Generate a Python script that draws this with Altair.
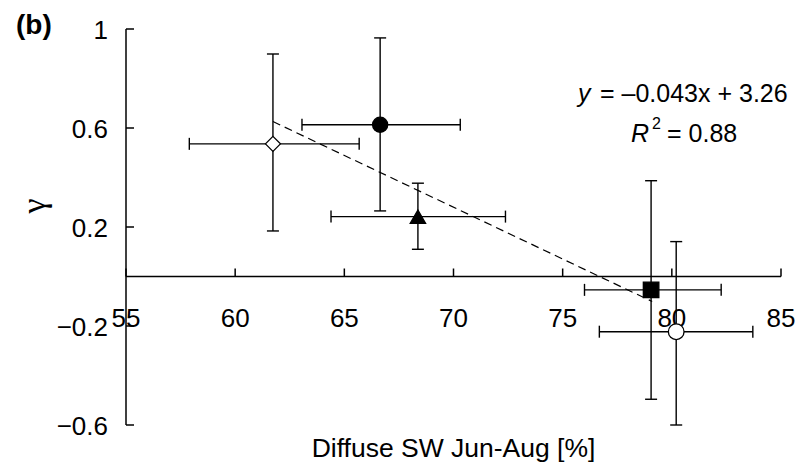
import altair as alt
import pandas as pd

# ---- data ----
series = ["s1", "s2", "s3", "s4", "s5"]
x_vals = [61.73, 66.64, 68.37, 79.05, 80.20]
y_vals = [0.536, 0.613, 0.242, -0.054, -0.223]
x_lo = [57.90, 63.06, 64.39, 76.00, 76.68]
x_hi = [65.68, 70.31, 72.38, 82.26, 83.71]
y_lo = [0.184, 0.265, 0.110, -0.496, -0.600]
y_hi = [0.899, 0.964, 0.377, 0.387, 0.141]

fit_x = [61.73, 79.10]
fit_y = [0.626, -0.101]

x_ticks = [55, 60, 65, 70, 75, 80, 85]
y_ticks = [1.0, 0.6, 0.2, -0.2, -0.6]
y_tick_labels = ["1", "0.6", "0.2", "\u22120.2", "\u22120.6"]

FONT = "Liberation Sans"
W, H = 655, 396

xs = alt.Scale(domain=[x_ticks[0], x_ticks[-1]], nice=False, zero=False)
ys = alt.Scale(domain=[y_ticks[-1], y_ticks[0]], nice=False, zero=False)

pts = pd.DataFrame({"series": series, "x": x_vals, "y": y_vals,
                    "xlo": x_lo, "xhi": x_hi, "ylo": y_lo, "yhi": y_hi})

X = lambda f: alt.X(f, type="quantitative", scale=xs, axis=None)
Y = lambda f: alt.Y(f, type="quantitative", scale=ys, axis=None)

base = alt.Chart(pts)

# error bars
h_bar = base.mark_rule(color="black", strokeWidth=1.4).encode(x=X("xlo"), x2="xhi", y=Y("y"))
v_bar = base.mark_rule(color="black", strokeWidth=1.4).encode(x=X("x"), y=Y("ylo"), y2="yhi")

xcap_df = pd.DataFrame({"x": x_lo + x_hi, "y": y_vals + y_vals})
ycap_df = pd.DataFrame({"x": x_vals + x_vals, "y": y_lo + y_hi})
x_caps = alt.Chart(xcap_df).mark_rule(color="black", strokeWidth=1.4, yOffset=-6, y2Offset=6).encode(
    x=X("x"), y=Y("y"), y2="y")
y_caps = alt.Chart(ycap_df).mark_rule(color="black", strokeWidth=1.4, xOffset=-6, x2Offset=6).encode(
    x=X("x"), x2="x", y=Y("y"))

# regression line
fit = alt.Chart(pd.DataFrame({"x": fit_x, "y": fit_y})).mark_line(
    color="black", strokeWidth=1.2, strokeDash=[8, 5]).encode(x=X("x"), y=Y("y"))

# markers
markers = base.mark_point(filled=True, stroke="black", strokeWidth=1.3, opacity=1).encode(
    x=X("x"), y=Y("y"),
    shape=alt.Shape("series:N", legend=None,
                    scale=alt.Scale(domain=series,
                                    range=["diamond", "circle", "triangle-up", "square", "circle"])),
    fill=alt.Fill("series:N", legend=None,
                  scale=alt.Scale(domain=series, range=["white", "black", "black", "black", "white"])),
    size=alt.Size("series:N", legend=None,
                  scale=alt.Scale(domain=series, range=[225, 246, 289, 169, 246])),
)

# axes drawn by hand (x axis crosses at y = 0, ticks inward)
yaxis_line = alt.Chart(pd.DataFrame({"x": [x_ticks[0]], "y": [y_ticks[-1]], "y2": [y_ticks[0]]})).mark_rule(
    color="black", strokeWidth=1.5).encode(x=X("x"), y=Y("y"), y2="y2")
xaxis_line = alt.Chart(pd.DataFrame({"x": [x_ticks[0]], "x2": [x_ticks[-1]], "y": [0]})).mark_rule(
    color="black", strokeWidth=1.5).encode(x=X("x"), x2="x2", y=Y("y"))

xt_df = pd.DataFrame({"x": x_ticks, "y": [0] * len(x_ticks), "lab": [str(v) for v in x_ticks]})
yt_df = pd.DataFrame({"x": [x_ticks[0]] * len(y_ticks), "y": y_ticks, "lab": y_tick_labels})

x_tickmarks = alt.Chart(xt_df).mark_rule(color="black", strokeWidth=1.5, y2Offset=-8).encode(
    x=X("x"), y=Y("y"), y2="y")
y_tickmarks = alt.Chart(yt_df).mark_rule(color="black", strokeWidth=1.5, x2Offset=8).encode(
    x=X("x"), x2="x", y=Y("y"))

x_labels = alt.Chart(xt_df).mark_text(font=FONT, fontSize=26, align="center", baseline="alphabetic",
                                      dy=50, color="black").encode(x=X("x"), y=Y("y"), text="lab:N")
y_labels = alt.Chart(yt_df).mark_text(font=FONT, fontSize=26, align="right", baseline="alphabetic",
                                      dx=-18, dy=10, color="black").encode(x=X("x"), y=Y("y"), text="lab:N")

# titles and annotations
def txt(s, px, py, size=26, font=FONT, **kw):
    return alt.Chart(pd.DataFrame({"t": [s]})).mark_text(font=font, fontSize=size, color="black", **kw).encode(
        x=alt.value(px), y=alt.value(py), text="t:N")

x_title = txt("Diffuse SW Jun-Aug [%]", W / 2, 428, size=26.5, align="center", baseline="alphabetic")
y_title = txt("\u03b3", -91, 177, size=34, font="Liberation Serif", align="center", baseline="middle", angle=270)
panel = txt("(b)", -110, 5, size=28, align="left", baseline="alphabetic", fontWeight="bold")
eq_y = txt("y", 452, 73, size=25, align="left", baseline="alphabetic", fontStyle="italic")
eq_rest = txt("= \u20130.043x + 3.26", 474, 73, size=25, align="left", baseline="alphabetic")
r_R = txt("R", 505, 113, size=25, align="left", baseline="alphabetic", fontStyle="italic")
r_2 = txt("2", 526, 100, size=16, align="left", baseline="alphabetic")
r_rest = txt("= 0.88", 541, 113, size=25, align="left", baseline="alphabetic")

chart = alt.layer(
    fit, h_bar, v_bar, x_caps, y_caps,
    yaxis_line, xaxis_line, x_tickmarks, y_tickmarks, y_labels, x_labels,
    markers,
    x_title, y_title, panel, eq_y, eq_rest, r_R, r_2, r_rest,
).properties(
    width=W, height=H,
    autosize=alt.AutoSizeParams(type="none"),
    padding={"left": 118, "top": 21, "right": 18, "bottom": 38},
).configure_view(stroke=None)

chart.save("out.html", embed_options={"renderer": "svg", "actions": False})
